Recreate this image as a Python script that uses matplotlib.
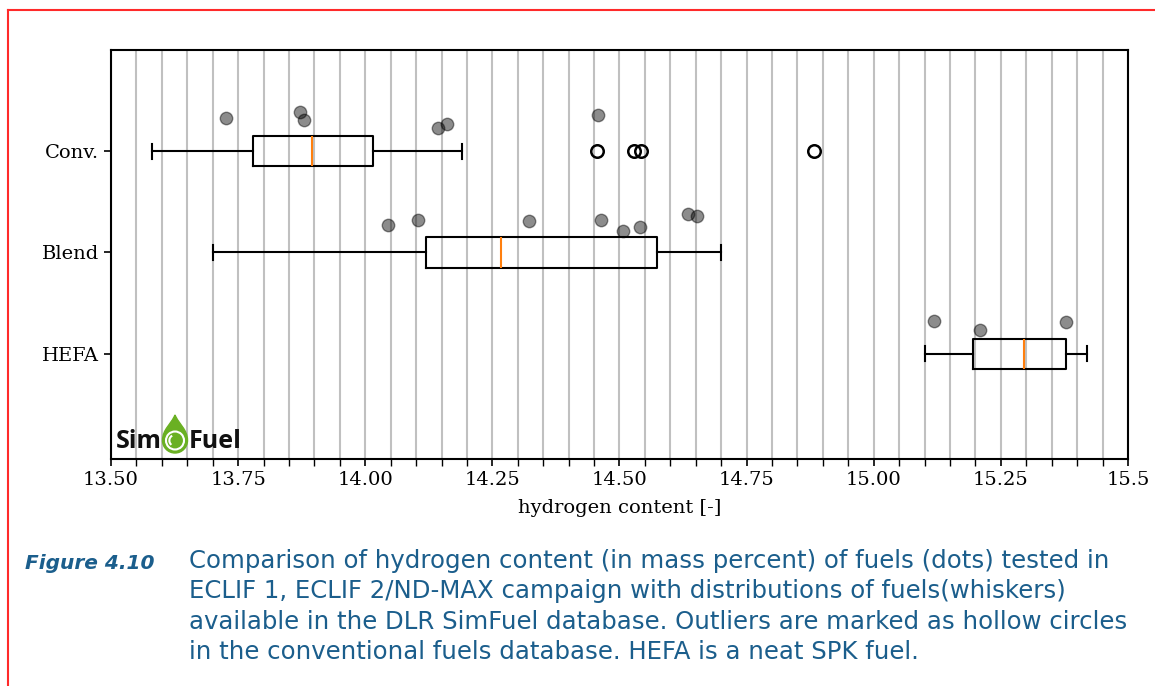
import numpy as np
import matplotlib
matplotlib.use('Agg')
import matplotlib.pyplot as plt
from matplotlib.lines import Line2D
from matplotlib.path import Path
from matplotlib.patches import PathPatch, Circle, Arc

matplotlib.rcParams['font.family'] = 'DejaVu Serif'

# fuel categories (top to bottom)
categories = ['Conv.', 'Blend', 'HEFA']
positions = [3, 2, 1]

# box statistics from the SimFuel database
whisker_low = [13.58, 13.70, 15.10]
q1 = [13.78, 14.12, 15.195]
median = [13.895, 14.266, 15.295]
q3 = [14.015, 14.573, 15.378]
whisker_high = [14.19, 14.70, 15.42]
outliers = [[14.455, 14.528, 14.543, 14.882], [], []]

# tested fuels (dots), with the vertical jitter they were drawn with
conv_x = [13.726, 13.872, 13.880, 14.144, 14.161, 14.457]
conv_dy = [0.33, 0.39, 0.31, 0.23, 0.27, 0.36]
blend_x = [14.045, 14.104, 14.323, 14.463, 14.506, 14.541, 14.634, 14.652]
blend_dy = [0.27, 0.32, 0.31, 0.32, 0.21, 0.25, 0.38, 0.36]
hefa_x = [15.118, 15.209, 15.378]
hefa_dy = [0.32, 0.23, 0.31]

xticks = [13.50, 13.75, 14.00, 14.25, 14.50, 14.75, 15.00, 15.25, 15.5]
xticklabels = ['13.50', '13.75', '14.00', '14.25', '14.50', '14.75', '15.00', '15.25', '15.5']

caption_label = 'Figure 4.10'
caption_text = ('Comparison of hydrogen content (in mass percent) of fuels (dots) tested in\n'
                'ECLIF 1, ECLIF 2/ND-MAX campaign with distributions of fuels(whiskers)\n'
                'available in the DLR SimFuel database. Outliers are marked as hollow circles\n'
                'in the conventional fuels database. HEFA is a neat SPK fuel.')

W, H = 1155, 686
fig = plt.figure(figsize=(W / 100, H / 100), dpi=100)
ax = fig.add_axes([111 / W, 1 - 459 / H, 1017 / W, 409 / H])

stats = []
for i in range(len(categories)):
    stats.append({'med': median[i], 'q1': q1[i], 'q3': q3[i],
                  'whislo': whisker_low[i], 'whishi': whisker_high[i],
                  'fliers': outliers[i], 'label': categories[i]})

ax.bxp(stats, positions=positions, vert=False, widths=0.3, zorder=3,
       boxprops={'linewidth': 1.5, 'color': 'black'},
       whiskerprops={'linewidth': 1.5, 'color': 'black'},
       capprops={'linewidth': 1.5, 'color': 'black'},
       medianprops={'linewidth': 1.5, 'color': '#ff7f0e'},
       flierprops={'marker': 'o', 'markersize': 9, 'markerfacecolor': 'none',
                   'markeredgecolor': 'black', 'markeredgewidth': 1.8})

# tested fuels as dots above the boxes
for xs, dys, pos in [(conv_x, conv_dy, 3), (blend_x, blend_dy, 2), (hefa_x, hefa_dy, 1)]:
    ax.scatter(xs, [pos + d for d in dys], s=80, color='black', alpha=0.45,
               linewidths=1.0, zorder=4)

ax.set_xlim(13.5, 15.5)
ax.set_ylim(-0.04, 4.0)
ax.set_xticks(xticks)
ax.set_xticklabels(xticklabels)
ax.set_xticks(np.arange(13.5, 15.5001, 0.05), minor=True)
ax.set_yticks(positions)
ax.set_yticklabels(categories)
ax.tick_params(axis='both', which='major', labelsize=14, length=5, width=1.2)
ax.tick_params(axis='x', which='minor', length=5, width=1.0)
ax.grid(True, axis='x', which='both', color='#c0c0c0', linewidth=1.5, zorder=0)
ax.set_axisbelow(True)
for sp in ax.spines.values():
    sp.set_linewidth(1.5)
ax.set_xlabel('hydrogen content [-]', fontsize=14, labelpad=7)

# SimFuel logo
fig.text(116 / W, 1 - 448 / H, 'Sim', fontsize=18, fontweight='bold',
         family='Open Sans', color='#111111', ha='left', va='baseline')
fig.text(189 / W, 1 - 448 / H, 'Fuel', fontsize=18, fontweight='bold',
         family='Open Sans', color='#111111', ha='left', va='baseline')
cx, cy, r = 175, H - 440.5, 12.5
k = 0.5523
px = [(cx, cy + 2.05 * r),
      (cx + 0.3 * r, cy + 1.3 * r), (cx + r, cy + 0.9 * r), (cx + r, cy),
      (cx + r, cy - k * r), (cx + k * r, cy - r), (cx, cy - r),
      (cx - k * r, cy - r), (cx - r, cy - k * r), (cx - r, cy),
      (cx - r, cy + 0.9 * r), (cx - 0.3 * r, cy + 1.3 * r), (cx, cy + 2.05 * r)]
verts = [(x / W, y / H) for x, y in px]
codes = [Path.MOVETO] + [Path.CURVE4] * 12
drop = PathPatch(Path(verts, codes), transform=fig.transFigure, facecolor='#6ab023',
                 edgecolor='#6ab023', linewidth=1)
fig.add_artist(drop)
ring = Circle((cx, cy), 0.72 * r, transform=None, facecolor='#6ab023',
              edgecolor='white', linewidth=1.5)
fig.add_artist(ring)
shine = Arc((cx, cy), 0.9 * r, 0.9 * r, theta1=120, theta2=230, transform=None,
            color='white', linewidth=1.5)
fig.add_artist(shine)

# red frame
fig.add_artist(Line2D([8 / W, 1.0], [1 - 10 / H, 1 - 10 / H], color='#ff2a2a', linewidth=1.5))
fig.add_artist(Line2D([8 / W, 8 / W], [0.0, 1 - 10 / H], color='#ff2a2a', linewidth=1.5))

# caption
cap_color = '#1b5e8c'
fig.text(25 / W, 1 - 569 / H, caption_label, fontsize=14.5, fontweight='bold',
         fontstyle='italic', family='DejaVu Sans', color=cap_color,
         va='baseline', ha='left')
fig.text(189 / W, 1 - 549 / H, caption_text, fontsize=17.6, family='DejaVu Sans',
         color=cap_color, va='top', ha='left', linespacing=1.33)

plt.savefig('out.png', dpi=100)
